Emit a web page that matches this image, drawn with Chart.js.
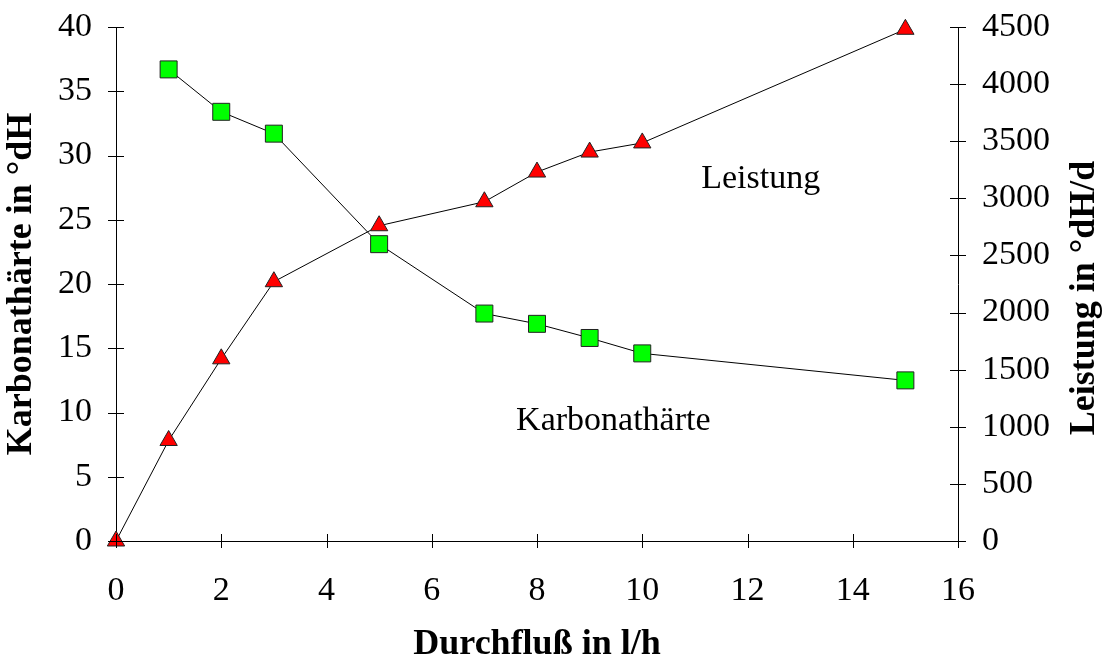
<!DOCTYPE html>
<html>
<head>
<meta charset="utf-8">
<script src="https://cdn.jsdelivr.net/npm/chart.js@4.4.0/dist/chart.umd.min.js"></script>
<style>
  html, body { margin: 0; padding: 0; background: #fff; }
  #wrap { width: 1105px; height: 661px; }
</style>
</head>
<body>
<div id="wrap"><canvas id="chart"></canvas></div>
<script>
// Data
const hardnessFlow = [1, 2, 3, 5, 7, 8, 9, 10, 15];
const hardnessValues = [36.7, 33.4, 31.7, 23.1, 17.7, 16.9, 15.8, 14.6, 12.5];
const outputFlow = [0, 1, 2, 3, 5, 7, 8, 9, 10, 15];
const outputValues = [0, 880, 1595, 2270, 2760, 2970, 3230, 3405, 3485, 4480];

const xTitle = 'Durchfluß in l/h';
const yTitle = 'Karbonathärte in °dH';
const y2Title = 'Leistung in °dH/d';

const serif = '"Liberation Serif", "Times New Roman", serif';

function toPoints(xs, ys) {
    return xs.map(function(x, i) { return { x: x, y: ys[i] }; });
}

// no extra room for half tick labels, the layout padding decides
function noEdgePadding(scale) {
    scale.paddingTop = 0;
    scale.paddingBottom = 0;
    scale.paddingLeft = 0;
    scale.paddingRight = 0;
}

// Ticks crossing the axis lines, right axis title, inline labels
const extras = {
    id: 'extras',
    afterDraw(chart) {
        const ctx = chart.ctx;
        const sx = chart.scales.x, sy = chart.scales.y, sy2 = chart.scales.y2;
        ctx.save();
        ctx.strokeStyle = '#000';
        ctx.lineWidth = 1;
        ctx.beginPath();
        sx.ticks.forEach(function(t) {
            const px = Math.round(sx.getPixelForValue(t.value)) + 0.5;
            ctx.moveTo(px, sx.top - 7);
            ctx.lineTo(px, sx.top + 7);
        });
        sy.ticks.forEach(function(t) {
            const py = Math.round(sy.getPixelForValue(t.value)) + 0.5;
            ctx.moveTo(sy.right - 8, py);
            ctx.lineTo(sy.right + 8, py);
        });
        sy2.ticks.forEach(function(t) {
            const py = Math.round(sy2.getPixelForValue(t.value)) + 0.5;
            ctx.moveTo(sy2.left - 8, py);
            ctx.lineTo(sy2.left + 8, py);
        });
        ctx.stroke();

        // right title reads bottom to top
        ctx.fillStyle = '#000';
        ctx.font = 'bold 36px ' + serif;
        ctx.textAlign = 'center';
        ctx.textBaseline = 'middle';
        ctx.translate(1085, (chart.chartArea.top + chart.chartArea.bottom) / 2 + 14);
        ctx.rotate(-Math.PI / 2);
        ctx.fillText(y2Title, 0, 0);
        ctx.restore();

        ctx.save();
        ctx.fillStyle = '#000';
        ctx.font = '34px ' + serif;
        ctx.textAlign = 'center';
        ctx.textBaseline = 'middle';
        ctx.fillText('Leistung', sx.getPixelForValue(12.25), sy.getPixelForValue(28.2));
        ctx.fillText('Karbonathärte', sx.getPixelForValue(9.45), sy.getPixelForValue(9.3));
        ctx.restore();
    }
};

new Chart(document.getElementById('chart'), {
    type: 'scatter',
    data: {
        datasets: [{
            label: 'Leistung',
            data: toPoints(outputFlow, outputValues),
            yAxisID: 'y2',
            showLine: true,
            clip: false,
            borderColor: '#000',
            borderWidth: 1,
            pointStyle: 'triangle',
            pointRadius: 10,
            pointBackgroundColor: '#ff0000',
            pointBorderColor: '#222',
            pointBorderWidth: 1,
            order: 2
        }, {
            label: 'Karbonathärte',
            data: toPoints(hardnessFlow, hardnessValues),
            yAxisID: 'y',
            showLine: true,
            clip: false,
            borderColor: '#000',
            borderWidth: 1,
            pointStyle: 'rect',
            pointRadius: 12,
            pointBackgroundColor: '#00ff00',
            pointBorderColor: '#222',
            pointBorderWidth: 1,
            order: 1
        }]
    },
    options: {
        responsive: true,
        maintainAspectRatio: false,
        animation: false,
        layout: { padding: { top: 27, left: 0, right: 0, bottom: 0 } },
        plugins: {
            legend: { display: false },
            tooltip: { enabled: false }
        },
        scales: {
            x: {
                type: 'linear',
                min: 0,
                max: 16,
                ticks: { stepSize: 2, color: '#000', padding: 30, font: { family: serif, size: 34 } },
                grid: { drawOnChartArea: false, drawTicks: false },
                border: { color: '#000', width: 1 },
                title: { display: true, text: xTitle, color: '#000', font: { family: serif, size: 36, weight: 'bold', lineHeight: 1 }, padding: { top: 0, bottom: -2 } },
                afterFit(scale) { scale.height = 120; noEdgePadding(scale); }
            },
            y: {
                position: 'left',
                min: 0,
                max: 40,
                ticks: { stepSize: 5, color: '#000', padding: 24, font: { family: serif, size: 34 } },
                grid: { drawOnChartArea: false, drawTicks: false },
                border: { color: '#000', width: 1 },
                title: { display: true, text: yTitle, color: '#000', font: { family: serif, size: 36, weight: 'bold', lineHeight: 1 }, padding: { top: 4, bottom: 0 } },
                afterFit(scale) { scale.width = 116; noEdgePadding(scale); }
            },
            y2: {
                position: 'right',
                min: 0,
                max: 4500,
                ticks: {
                    stepSize: 500, color: '#000', padding: 24, font: { family: serif, size: 34 },
                    callback: function(value) { return String(value); }
                },
                grid: { drawOnChartArea: false, drawTicks: false },
                border: { color: '#000', width: 1 },
                afterFit(scale) { scale.width = 147; noEdgePadding(scale); }
            }
        }
    },
    plugins: [extras]
});
</script>
</body>
</html>
